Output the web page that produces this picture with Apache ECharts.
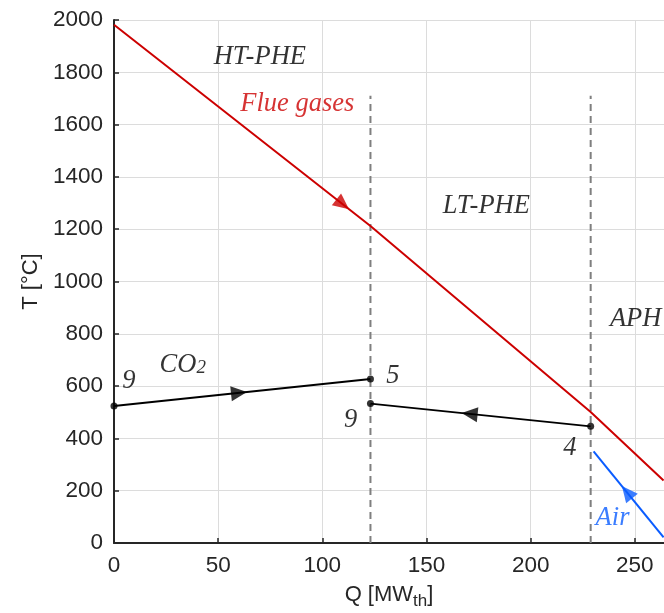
<!DOCTYPE html>
<html>
<head>
<meta charset="utf-8">
<script src="https://cdn.jsdelivr.net/npm/echarts@6/dist/echarts.min.js"></script>
<style>
  html, body { margin: 0; padding: 0; background: #fff; }
  #chart { width: 664px; height: 613px; }
</style>
</head>
<body>
<div id="chart"></div>
<script>
// Heat-exchange temperature profiles: T versus transferred heat Q
const xTicks = [0, 50, 100, 150, 200, 250];
const yTicks = [0, 200, 400, 600, 800, 1000, 1200, 1400, 1600, 1800, 2000];

// Flue gases (hot side)
const flueQ = [0, 123.1, 228.8, 263.8];
const flueT = [1982, 1212, 501, 239];

// Combustion air in the air preheater
const airQ = [230.2, 263.8];
const airT = [350, 22];

// CO2 stream through HT-PHE (9 -> 5) and LT-PHE (4 -> 9)
const co2HtQ = [0, 123.1];
const co2HtT = [524, 627];
const co2LtQ = [123.1, 228.8];
const co2LtT = [533, 446];

// Section boundaries between heat exchangers
const dividerQ = [123.1, 228.8];
const dividerTop = 1710;

// Flow direction arrows: Q position along each stream
const arrowFlueQ = 109.8;
const arrowHtQ = 60;
const arrowLtQ = 170.7;
const arrowAirQ = 246.2;

// Text annotations
const noteTexts = ['HT-PHE', 'Flue gases', 'LT-PHE', 'APH', '{a|CO}{b|2}', '9', '5', '9', '4', 'Air'];
const noteQ = [70, 88, 178.7, 250.4, 33, 7.1, 133.8, 113.6, 218.8, 239.3];
const noteT = [1857, 1677, 1290, 858, 679, 621, 639, 469, 363, 94];

const RED = '#cc0000';
const BLUE = '#0a5cff';
const BLACK = '#000000';
const INK = '#262626';
const SERIF = '"Liberation Serif", "DejaVu Serif", serif';
const SANS = '"Liberation Sans", Arial, sans-serif';

const zip = (xs, ys) => xs.map((x, i) => [x, ys[i]]);

// linear lookup on a polyline, for placing arrows on the drawn stream
function along(xs, ys, x) {
  for (let i = 0; i < xs.length - 1; i++) {
    if (x >= xs[i] && x <= xs[i + 1]) {
      const f = (x - xs[i]) / (xs[i + 1] - xs[i]);
      return ys[i] + f * (ys[i + 1] - ys[i]);
    }
  }
  return ys[ys.length - 1];
}

const arrows = [
  { q: arrowFlueQ, xs: flueQ, ys: flueT, color: RED, dir: 1 },
  { q: arrowHtQ, xs: co2HtQ, ys: co2HtT, color: BLACK, dir: 1 },
  { q: arrowLtQ, xs: co2LtQ, ys: co2LtT, color: BLACK, dir: -1 },
  { q: arrowAirQ, xs: airQ, ys: airT, color: BLUE, dir: -1 }
];

const noteColors = [BLACK, RED, BLACK, BLACK, BLACK, BLACK, BLACK, BLACK, BLACK, BLUE];

const chart = echarts.init(document.getElementById('chart'), null, { renderer: 'canvas' });

function lineSeries(data, color, extra) {
  return Object.assign({
    type: 'line',
    data: data,
    showSymbol: false,
    symbol: 'none',
    silent: true,
    animation: false,
    lineStyle: { color: color, width: 2 },
    z: 3
  }, extra || {});
}

const option = {
  animation: false,
  grid: { left: 114, right: 0, top: 20, bottom: 70, containLabel: false, outerBoundsMode: 'none' },
  xAxis: {
    type: 'value',
    min: 0,
    max: 264,
    interval: 50,
    name: 'Q [MW{sub|th}]',
    nameLocation: 'middle',
    nameGap: 36,
    nameTextStyle: {
      fontFamily: SANS, fontSize: 22, color: INK,
      rich: { sub: { fontFamily: SANS, fontSize: 17, color: INK, padding: [14, 0, 0, 0] } }
    },
    axisLine: { show: true, lineStyle: { color: INK, width: 2 } },
    axisTick: { show: true, inside: true, length: 5, lineStyle: { color: INK, width: 1.5 } },
    axisLabel: { fontFamily: SANS, fontSize: 22.5, color: INK, margin: 11, showMaxLabel: false },
    splitLine: { show: true, lineStyle: { color: '#dcdcdc', width: 1 } }
  },
  yAxis: {
    type: 'value',
    min: 0,
    max: 2000,
    interval: 200,
    name: 'T [°C]',
    nameLocation: 'middle',
    nameGap: 67,
    nameTextStyle: { fontFamily: SANS, fontSize: 22, color: INK },
    axisLine: { show: true, lineStyle: { color: INK, width: 2 } },
    axisTick: { show: true, inside: true, length: 5, lineStyle: { color: INK, width: 1.5 } },
    axisLabel: { fontFamily: SANS, fontSize: 22.5, color: INK, margin: 11, formatter: v => String(v) },
    splitLine: { show: true, lineStyle: { color: '#dcdcdc', width: 1 } }
  },
  series: [
    // section dividers
    ...dividerQ.map(q => lineSeries([[q, 0], [q, dividerTop]], '#7f7f7f', {
      lineStyle: { color: '#7f7f7f', width: 2, type: [7, 5] }, z: 2
    })),
    lineSeries(zip(flueQ, flueT), RED),
    lineSeries(zip(airQ, airT), BLUE),
    lineSeries(zip(co2HtQ, co2HtT), BLACK),
    lineSeries(zip(co2LtQ, co2LtT), BLACK),
    // state points
    {
      type: 'scatter',
      silent: true,
      symbol: 'circle',
      symbolSize: 7,
      itemStyle: { color: BLACK },
      data: [
        [co2HtQ[0], co2HtT[0]], [co2HtQ[1], co2HtT[1]],
        [co2LtQ[0], co2LtT[0]], [co2LtQ[1], co2LtT[1]]
      ],
      z: 5
    },
    // direction arrows (rotation set once pixel coordinates are known)
    {
      id: 'arrows',
      type: 'scatter',
      silent: true,
      symbol: 'triangle',
      symbolSize: [15, 16],
      data: arrows.map(a => ({
        value: [a.q, along(a.xs, a.ys, a.q)],
        itemStyle: { color: a.color }
      })),
      z: 6
    },
    // annotations
    {
      type: 'scatter',
      silent: true,
      symbolSize: 0,
      data: noteTexts.map((t, i) => ({
        value: [noteQ[i], noteT[i]],
        label: {
          show: true,
          formatter: t,
          position: [0, 0],
          align: 'center',
          verticalAlign: 'middle',
          fontFamily: SERIF,
          fontStyle: 'italic',
          fontSize: 26.5,
          color: noteColors[i],
          rich: {
            a: { fontFamily: SERIF, fontStyle: 'italic', fontSize: 26.5, color: BLACK },
            b: { fontFamily: SERIF, fontStyle: 'italic', fontSize: 19, color: BLACK, padding: [6, 0, 0, 0] }
          }
        }
      })),
      z: 7
    }
  ]
};

chart.setOption(option);

// orient each arrow along its stream in screen space
const arrowData = arrows.map(a => {
  const y = along(a.xs, a.ys, a.q);
  const d = 5;
  const p0 = chart.convertToPixel({ gridIndex: 0 }, [a.q - d, along(a.xs, a.ys, a.q - d)]);
  const p1 = chart.convertToPixel({ gridIndex: 0 }, [a.q + d, along(a.xs, a.ys, a.q + d)]);
  const dx = (p1[0] - p0[0]) * a.dir;
  const dy = (p1[1] - p0[1]) * a.dir;
  const theta = Math.atan2(-dy, dx) * 180 / Math.PI;
  return {
    value: [a.q, y],
    symbolRotate: theta - 90,
    itemStyle: { color: a.color }
  };
});
chart.setOption({ series: [{ id: 'arrows', data: arrowData }] });
</script>
</body>
</html>
